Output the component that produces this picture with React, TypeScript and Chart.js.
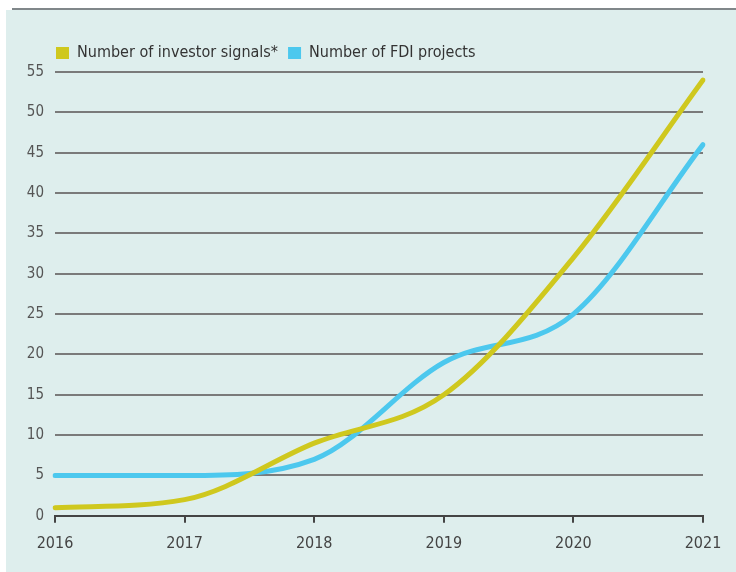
import React, { useEffect, useRef } from "react";
import { Chart, registerables } from "chart.js";

Chart.register(...registerables);

const years = ["2016", "2017", "2018", "2019", "2020", "2021"];
const investorSignals = [1, 2, 9, 15, 32, 54];
const fdiProjects = [5, 5, 7, 19, 25, 46];
const yMin = 0;
const yMax = 55;
const yStep = 5;

const FONT = "'Liberation Sans Narrow', 'DejaVu Sans Condensed', 'Roboto Condensed', sans-serif";

const legendShift = {
  id: "legendShift",
  afterLayout(chart: any) {
    const lg = chart.legend;
    if (lg) {
      lg.left += 40;
      lg.right += 40;
      lg.top -= 1;
      lg.bottom -= 1;
    }
  },
};

export default function App() {
  const ref = useRef<HTMLCanvasElement | null>(null);

  useEffect(() => {
    document.body.style.margin = "0";
    const canvas = ref.current;
    if (!canvas) return;
    const chart = new Chart(canvas, {
      type: "line",
      data: {
        labels: years,
        datasets: [
          {
            label: "Number of investor signals*",
            data: investorSignals,
            borderColor: "#cfc81e",
            backgroundColor: "#cfc81e",
            borderWidth: 5,
            pointRadius: 0,
            cubicInterpolationMode: "monotone",
            borderCapStyle: "round",
          },
          {
            label: "Number of FDI projects",
            data: fdiProjects,
            borderColor: "#4cc8ee",
            backgroundColor: "#4cc8ee",
            borderWidth: 5,
            pointRadius: 0,
            cubicInterpolationMode: "monotone",
            borderCapStyle: "round",
          },
        ],
      },
      options: {
        responsive: false,
        animation: false,
        devicePixelRatio: 1,
        layout: { padding: { left: 6, right: 33, top: 36, bottom: 8 } },
        plugins: {
          legend: {
            display: true,
            position: "top",
            align: "start",
            labels: {
              boxWidth: 13,
              boxHeight: 12,
              padding: 10,
              color: "#333",
              font: { family: FONT, size: 16 },
              generateLabels: (c: any) =>
                Chart.defaults.plugins.legend.labels
                  .generateLabels(c)
                  .map((l: any) => ({ ...l, lineWidth: 0 })),
            },
          },
          tooltip: { enabled: false },
        },
        scales: {
          x: {
            type: "category",
            offset: false,
            grid: {
              drawOnChartArea: false,
              drawTicks: true,
              tickLength: 7,
              color: "#444",
              lineWidth: 2,
            },
            border: { display: true, color: "#444", width: 2 },
            ticks: {
              color: "#444",
              padding: 11,
              maxRotation: 0,
              font: { family: FONT, size: 16 },
            },
          },
          y: {
            min: yMin,
            max: yMax,
            afterFit: (s: any) => {
              s.width = 49;
            },
            grid: { color: "#7a7a7a", lineWidth: 2, drawTicks: false },
            border: { display: false },
            ticks: {
              stepSize: yStep,
              color: "#555",
              padding: 11,
              font: { family: FONT, size: 15 },
            },
          },
        },
      },
      plugins: [legendShift],
    });
    return () => chart.destroy();
  }, []);

  return (
    <div style={{ position: "relative", width: 736, height: 572, background: "#ffffff", overflow: "hidden" }}>
      <div style={{ position: "absolute", left: 6, top: 10, right: 0, bottom: 0, background: "#deeeed" }} />
      <div style={{ position: "absolute", left: 12, top: 8, right: 0, height: 2, background: "#80878a" }} />
      <canvas ref={ref} width={736} height={572} style={{ position: "absolute", left: 0, top: 0, width: 736, height: 572 }} />
    </div>
  );
}
